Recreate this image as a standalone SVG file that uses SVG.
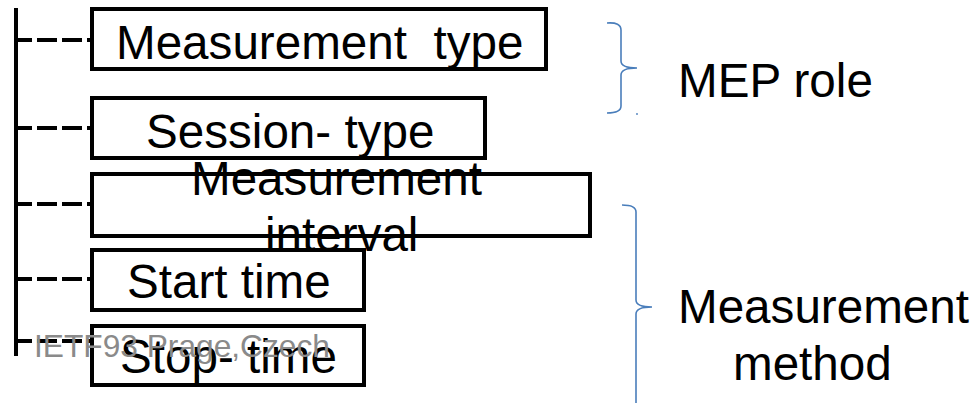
<svg xmlns="http://www.w3.org/2000/svg" width="980" height="403" viewBox="0 0 980 403">
  <style>
    .box { fill: #ffffff; stroke: #000000; stroke-width: 4; }
    .lbl { font-family: "Liberation Sans", Arial, sans-serif; font-size: 47.6px; fill: #000000; }
    .trunk { stroke: #000000; stroke-width: 4; fill: none; }
    .branch { stroke: #000000; stroke-width: 4; fill: none; stroke-dasharray: 16 5 20 5 20 5 20; }
    .brace { stroke: #4a7ebb; stroke-width: 1.6; fill: none; }
    .foot { font-family: "Liberation Sans", Arial, sans-serif; font-size: 31.7px; fill: #8a8a8a; }
  </style>

  <!-- tree trunk and dashed branches -->
  <g id="connectors">
    <line class="trunk" x1="16" y1="8" x2="16" y2="356"/>
    <line class="branch" x1="16" y1="40" x2="92" y2="40"/>
    <line class="branch" x1="16" y1="128" x2="92" y2="128"/>
    <line class="branch" x1="16" y1="204" x2="92" y2="204"/>
    <line class="branch" x1="16" y1="279" x2="92" y2="279"/>
    <line class="branch" x1="16" y1="341" x2="92" y2="341"/>
  </g>

  <g id="measurement-type">
    <rect class="box" x="92" y="9" width="454" height="60"/>
    <text class="lbl" x="116" y="59" xml:space="preserve">Measurement  type</text>
  </g>

  <g id="session-type">
    <rect class="box" x="92" y="98" width="393" height="60"/>
    <text class="lbl" x="146" y="148">Session- type</text>
  </g>

  <g id="measurement-interval">
    <rect class="box" x="92" y="174" width="498" height="62"/>
    <text class="lbl" x="191" y="195">Measurement</text>
    <text class="lbl" x="265" y="251">interval</text>
  </g>

  <g id="start-time">
    <rect class="box" x="92" y="250" width="272" height="60"/>
    <text class="lbl" x="127" y="298">Start time</text>
  </g>

  <g id="stop-time">
    <rect class="box" x="92" y="326" width="272" height="59"/>
    <text class="lbl" x="120" y="373">Stop- time</text>
    <line x1="197" y1="375" x2="197" y2="385" stroke="#000000" stroke-width="3"/>
  </g>

  <!-- grouping braces -->
  <g id="mep-role">
    <path class="brace" d="M607,23 Q621,22 621,30 L621,61 Q621,68 637,68 Q621,68 621,75 L621,106 Q621,113 607,113"/>
    <circle cx="637" cy="114" r="0.9" fill="#4a7ebb"/>
    <text class="lbl" x="678" y="97">MEP role</text>
  </g>

  <g id="measurement-method">
    <path class="brace" d="M622,205 Q636,205 636,212 L636,300 Q636,307 652,307 Q636,307 636,314 L636,403"/>
    <text class="lbl" x="678" y="323">Measurement</text>
    <text class="lbl" x="733" y="380">method</text>
  </g>

  <!-- footer -->
  <text class="foot" x="34" y="357">IETF93 Prage,Czech</text>
</svg>
